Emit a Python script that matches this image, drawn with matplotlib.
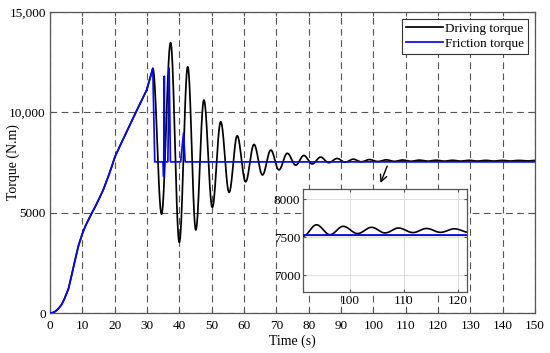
import numpy as np
import matplotlib
matplotlib.use("Agg")
import matplotlib.pyplot as plt

plt.rcParams['font.family'] = ['Liberation Serif', 'DejaVu Serif']
plt.rcParams['mathtext.fontset'] = 'stix'

# ---- data ----
# common ramp (friction torque == driving torque during sticking)
ramp_t = [0, 0.8, 1.5, 2.5, 3.6, 4.5, 5.7, 6.5, 7.7, 8.8, 10.0, 11.0, 12.0, 12.9, 14.0,
          15.5, 16.5, 18.0, 19.0, 20.1, 22.0, 24.7, 27.0, 29.9, 31.8]
ramp_v = [0, 15, 65, 200, 420, 720, 1200, 1750, 2600, 3350, 3950, 4350, 4680, 4970, 5300,
          5800, 6150, 6790, 7250, 7790, 8450, 9370, 10150, 11110, 12190]

# driving torque oscillation extrema (time, value)
drive_ext_t = [31.8, 34.5, 37.3, 40.0, 42.6, 45.1, 47.6, 50.2, 52.8, 55.4, 57.9, 60.5,
               63.1, 65.7, 68.3, 70.8, 73.4, 76.0, 78.5, 81.1, 83.7, 86.2, 88.8, 91.3,
               93.8, 96.3, 98.75, 101.4, 104.0, 106.5, 109.0, 111.7, 114.2, 116.8, 119.4,
               121.9, 124.5, 127.0, 129.6, 132.2, 134.8, 137.3, 139.9, 142.4, 145.0,
               147.5, 150.1]
drive_ext_v = [12190, 4930, 13470, 3520, 12270, 4140, 10610, 5270, 9530, 6010, 8830, 6540,
               8400, 6880, 8120, 7130, 7960, 7370, 7850, 7430, 7770, 7490, 7700, 7515,
               7665, 7535, 7645, 7550, 7632, 7558, 7623, 7563, 7617, 7566, 7613, 7568,
               7610, 7570, 7608, 7572, 7606, 7573, 7605, 7574, 7604, 7575, 7603]

# friction torque after break-away
fric_t = [32.4, 35.0, 35.15, 35.35, 35.5, 36.45, 36.85, 37.25, 40.4, 41.3, 41.8, 150]
fric_v = [7530, 7530, 6800, 11800, 7530, 7530, 12200, 7530, 7530, 8970, 7530, 7530]

x_ticks = list(range(0, 151, 10))
y_ticks = [0, 5000, 10000, 15000]
y_ticklabels = ['0', '5000', '10,000', '15,000']
inset_xticks = [100, 110, 120]
inset_yticks = [7000, 7500, 8000]


def smooth_extrema(ts, vs, n=40):
    out_t, out_v = [], []
    for i in range(len(ts) - 1):
        s = np.linspace(0, 1, n, endpoint=False)
        out_t.append(ts[i] + s * (ts[i + 1] - ts[i]))
        out_v.append(vs[i] + (vs[i + 1] - vs[i]) * (1 - np.cos(np.pi * s)) / 2)
    out_t.append([ts[-1]])
    out_v.append([vs[-1]])
    return np.concatenate(out_t), np.concatenate(out_v)


ot, ov = smooth_extrema(drive_ext_t, drive_ext_v)
drive_t = np.concatenate([ramp_t[:-1], ot])
drive_v = np.concatenate([ramp_v[:-1], ov])
friction_t = np.array(ramp_t + fric_t)
friction_v = np.array(ramp_v + fric_v)

BLUE = '#0a0ae0'
GRID = '#555555'
SPINE = '#555555'
FS = 9.5

fig = plt.figure(figsize=(5.5, 3.53), dpi=100)
ax = fig.add_axes([0.0909, 0.1133, 0.8818, 0.8527])

ax.plot(drive_t, drive_v, color='black', lw=1.25, label='Driving torque', zorder=3)
ax.plot(friction_t, friction_v, color=BLUE, lw=1.25, label='Friction torque', zorder=4)

ax.set_xlim(0, 150)
ax.set_ylim(0, 15000)
ax.set_xticks(x_ticks)
ax.set_yticks(y_ticks)
ax.set_yticklabels(y_ticklabels)
ax.grid(True, color=GRID, linestyle=(0, (6, 4)), linewidth=0.8)
ax.tick_params(direction='in', top=True, right=True, labelsize=FS, length=3,
               color=SPINE)
ax.tick_params(axis='x', pad=5)
ax.tick_params(axis='y', pad=3)
for sp in ax.spines.values():
    sp.set_color(SPINE)
    sp.set_linewidth(0.9)
ax.set_xlabel('Time (s)', fontsize=FS + 0.5)
ax.xaxis.set_label_coords(0.5, -0.072)
ax.set_ylabel('Torque (N.m)', fontsize=FS + 0.5)
ax.yaxis.set_label_coords(-0.061, 0.5)

leg = ax.legend(loc='upper right', fontsize=FS, frameon=True, fancybox=False,
                edgecolor='#333333', borderaxespad=0.5, handlelength=2.8,
                handletextpad=0.2, borderpad=0.3, labelspacing=0.2)
leg.get_frame().set_linewidth(0.8)
leg.get_frame().set_alpha(1)

ax.annotate('', xy=(101.9, 6350), xytext=(104.6, 7450),
            arrowprops=dict(arrowstyle='->', color='black', lw=1.0,
                            mutation_scale=12), zorder=5)

# inset
ins = fig.add_axes([0.551, 0.1728, 0.298, 0.2918])
ins.plot(drive_t, drive_v, color='black', lw=1.2, zorder=3)
ins.plot(friction_t, friction_v, color=BLUE, lw=1.4, zorder=4)
ins.set_xlim(91.3, 121.7)
ins.set_ylim(6783, 8135)
ins.set_xticks(inset_xticks)
ins.set_yticks(inset_yticks)
ins.grid(True, color='#dddddd', linestyle='-', linewidth=0.7)
ins.tick_params(direction='in', top=True, right=True, labelsize=FS, length=2.5,
                color=SPINE, pad=2)
for sp in ins.spines.values():
    sp.set_color(SPINE)
    sp.set_linewidth(0.9)

fig.savefig('out.png', dpi=100)
